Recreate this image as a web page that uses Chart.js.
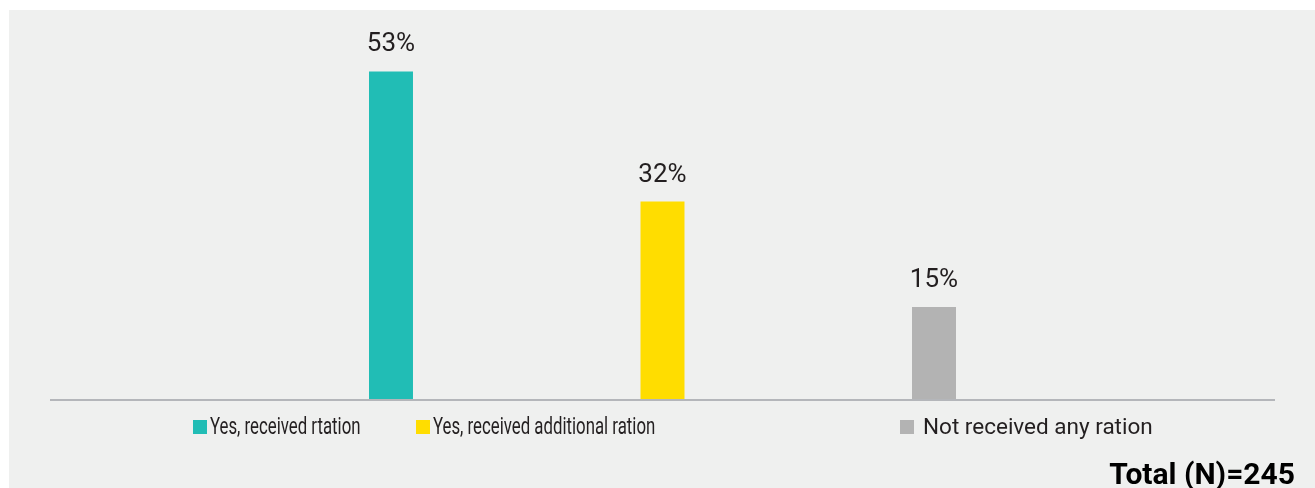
<!DOCTYPE html>
<html>
<head>
<meta charset="utf-8">
<script src="https://cdn.jsdelivr.net/npm/chart.js@4"></script>
<style>
  html, body { margin: 0; padding: 0; background: #fff; }
  body { width: 1315px; height: 488px; position: relative; overflow: hidden; font-family: Roboto, sans-serif; color: #231f20; }
  #panel { position: absolute; left: 9px; top: 10px; width: 1306px; height: 478px; background: #eff0ef; }
  #grafico { position: absolute; left: 0; top: 0; }
  .item { position: absolute; top: 420px; height: 14px; white-space: nowrap; }
  .item .box { position: absolute; left: 0; top: 0; width: 14px; height: 14px; }
  .item .txt { position: absolute; left: 17px; top: -5px; font-size: 23px; line-height: 23px; transform-origin: 0 50%; }
  .item .txt.narrow { transform: scaleX(0.73); }
  .item .txt.ancho { left: 23px; font-size: 22.5px; }
  #total { position: absolute; right: 20px; top: 459px; font-size: 30px; font-weight: bold; line-height: 30px; color: #000; }
</style>
</head>
<body>
<div id="panel">
  <canvas id="grafico" width="1306" height="478"></canvas>
</div>
<div id="legend"></div>
<div id="total">Total (N)=245</div>
<script>
const categorias = [""]
const series = ["Yes, received rtation", "Yes, received additional ration", "Not received any ration"]
const valores = [53, 32, 15]
const colores = ["#21bdb5", "#ffdd00", "#b3b3b3"]
const leyendaX = [193, 416, 900]
const leyendaAngosta = [true, true, false]

const graph = document.querySelector("#grafico")

const etiquetas = {
  id: "etiquetas",
  afterDatasetsDraw(chart) {
    const ctx = chart.ctx
    ctx.save()
    ctx.font = "26px Roboto"
    ctx.fillStyle = "#231f20"
    ctx.textAlign = "center"
    ctx.textBaseline = "alphabetic"
    chart.data.datasets.forEach((ds, i) => {
      const bar = chart.getDatasetMeta(i).data[0]
      ctx.fillText(ds.data[0] + "%", bar.x, bar.y - 20)
    })
    ctx.restore()
  },
}

const data = {
  labels: categorias,
  datasets: series.map((nombre, i) => ({
    label: nombre,
    data: [valores[i]],
    backgroundColor: colores[i],
    categoryPercentage: 0.666,
    barPercentage: 0.162,
  })),
}

const config = {
  type: "bar",
  data: data,
  options: {
    responsive: false,
    animation: false,
    layout: {
      padding: { left: 42, right: 41, top: 18, bottom: 88 },
    },
    plugins: {
      legend: { display: false },
      tooltip: { enabled: false },
    },
    scales: {
      x: {
        ticks: { display: false },
        grid: { display: false, drawTicks: false },
        border: { display: true, color: "#b4b6ba", width: 2, z: 1 },
      },
      y: {
        display: false,
        min: 0,
        max: 60,
      },
    },
  },
  plugins: [etiquetas],
}

new Chart(graph, config)

// leyenda
const leyenda = document.querySelector("#legend")
series.forEach((nombre, i) => {
  const item = document.createElement("div")
  item.className = "item"
  item.style.left = leyendaX[i] + "px"
  item.innerHTML = '<span class="box" style="background:' + colores[i] + '"></span>' +
    '<span class="txt ' + (leyendaAngosta[i] ? "narrow" : "ancho") + '">' + nombre + "</span>"
  leyenda.appendChild(item)
})
</script>
</body>
</html>
